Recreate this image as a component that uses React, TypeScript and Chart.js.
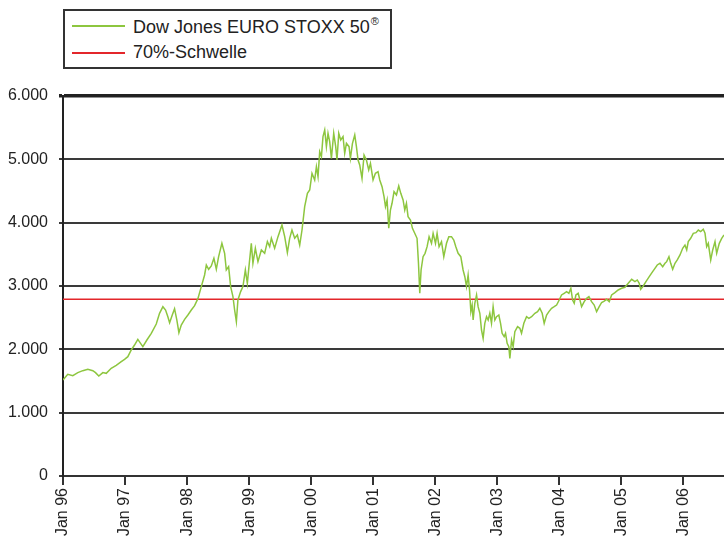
import React, { useEffect, useRef } from 'react';
import { Chart, registerables } from 'chart.js';

Chart.register(...registerables);

const seriesLabel = 'Dow Jones EURO STOXX 50';
const thresholdLabel = '70%-Schwelle';
const thresholdValue = 2790;

const yTickValues = [0, 1000, 2000, 3000, 4000, 5000, 6000];
const xTickYears = [1996, 1997, 1998, 1999, 2000, 2001, 2002, 2003, 2004, 2005, 2006];

// decimal years
const dates = [
  1996.000, 1996.077, 1996.158, 1996.239, 1996.319, 1996.400, 1996.481, 1996.524, 1996.577, 1996.642,
  1996.697, 1996.777, 1996.858, 1996.939, 1996.992, 1997.045, 1997.100, 1997.153, 1997.206, 1997.250,
  1997.287, 1997.352, 1997.423, 1997.503, 1997.556, 1997.610, 1997.653, 1997.690, 1997.718, 1997.761,
  1997.798, 1997.835, 1997.868, 1997.906, 1997.960, 1998.013, 1998.068, 1998.121, 1998.174, 1998.229,
  1998.282, 1998.310, 1998.347, 1998.390, 1998.432, 1998.471, 1998.508, 1998.561, 1998.605, 1998.632,
  1998.669, 1998.702, 1998.739, 1998.766, 1998.794, 1998.819, 1998.863, 1998.900, 1998.939, 1998.971,
  1998.997, 1999.035, 1999.061, 1999.100, 1999.142, 1999.197, 1999.250, 1999.294, 1999.331, 1999.358,
  1999.411, 1999.465, 1999.529, 1999.573, 1999.616, 1999.653, 1999.690, 1999.734, 1999.777, 1999.815,
  1999.852, 1999.895, 1999.939, 1999.976, 2000.013, 2000.056, 2000.084, 2000.110, 2000.137, 2000.165,
  2000.190, 2000.218, 2000.245, 2000.271, 2000.298, 2000.326, 2000.363, 2000.395, 2000.416, 2000.444,
  2000.476, 2000.513, 2000.540, 2000.568, 2000.610, 2000.632, 2000.665, 2000.702, 2000.729, 2000.755,
  2000.782, 2000.819, 2000.852, 2000.890, 2000.927, 2000.955, 2000.997, 2001.035, 2001.077, 2001.105,
  2001.142, 2001.174, 2001.197, 2001.223, 2001.250, 2001.277, 2001.303, 2001.335, 2001.374, 2001.411,
  2001.444, 2001.481, 2001.508, 2001.535, 2001.561, 2001.600, 2001.632, 2001.669, 2001.706, 2001.729,
  2001.750, 2001.771, 2001.803, 2001.835, 2001.868, 2001.900, 2001.939, 2001.965, 2002.003, 2002.029,
  2002.061, 2002.100, 2002.137, 2002.181, 2002.218, 2002.261, 2002.298, 2002.331, 2002.368, 2002.411,
  2002.448, 2002.476, 2002.503, 2002.529, 2002.552, 2002.573, 2002.594, 2002.610, 2002.637, 2002.665,
  2002.690, 2002.718, 2002.745, 2002.771, 2002.798, 2002.826, 2002.852, 2002.879, 2002.906, 2002.932,
  2002.960, 2002.987, 2003.024, 2003.052, 2003.077, 2003.110, 2003.132, 2003.158, 2003.185, 2003.202,
  2003.229, 2003.255, 2003.282, 2003.326, 2003.363, 2003.390, 2003.427, 2003.471, 2003.508, 2003.552,
  2003.605, 2003.648, 2003.685, 2003.723, 2003.755, 2003.794, 2003.831, 2003.874, 2003.916, 2003.955,
  2003.997, 2004.035, 2004.077, 2004.116, 2004.153, 2004.185, 2004.213, 2004.239, 2004.266, 2004.303,
  2004.331, 2004.358, 2004.400, 2004.439, 2004.476, 2004.519, 2004.561, 2004.600, 2004.642, 2004.681,
  2004.723, 2004.761, 2004.803, 2004.842, 2004.895, 2004.948, 2005.003, 2005.056, 2005.110, 2005.165,
  2005.218, 2005.255, 2005.287, 2005.310, 2005.352, 2005.395, 2005.448, 2005.503, 2005.540, 2005.577,
  2005.621, 2005.665, 2005.702, 2005.729, 2005.766, 2005.794, 2005.826, 2005.863, 2005.900, 2005.944,
  2005.987, 2006.024, 2006.052, 2006.077, 2006.116, 2006.158, 2006.202, 2006.239, 2006.277, 2006.319,
  2006.347, 2006.374, 2006.400, 2006.439, 2006.471, 2006.508, 2006.535, 2006.577, 2006.616, 2006.653,
];

const values = [
  1516, 1606, 1584, 1632, 1663, 1685, 1663, 1632, 1579, 1632,
  1621, 1700, 1748, 1805, 1842, 1884, 1990, 2068, 2158, 2095,
  2042, 2147, 2253, 2400, 2569, 2673, 2621, 2515, 2421, 2542,
  2642, 2463, 2263, 2384, 2474, 2542, 2621, 2690, 2800, 2990,
  3174, 3332, 3264, 3316, 3437, 3264, 3463, 3674, 3516, 3253,
  3305, 2990, 2832, 2621, 2437, 2779, 2911, 2990, 3253, 3043,
  3305, 3674, 3358, 3595, 3384, 3569, 3516, 3700, 3621, 3753,
  3595, 3779, 3963, 3779, 3526, 3753, 3884, 3753, 3805, 3647,
  3884, 4253, 4463, 4516, 4779, 4674, 4884, 4726, 5121, 5042,
  5358, 5463, 5200, 5411, 5280, 5016, 5411, 5200, 4990, 5411,
  5305, 5358, 5095, 5253, 5200, 5016, 5253, 5384, 5200, 4990,
  4911, 4700, 5069, 4990, 4832, 4937, 4674, 4779, 4805, 4674,
  4568, 4410, 4253, 4358, 3911, 4200, 4306, 4489, 4437, 4579,
  4463, 4358, 4200, 4306, 4095, 4042, 3911, 3832, 3753, 3358,
  2885, 3253, 3463, 3516, 3621, 3779, 3674, 3832, 3674, 3832,
  3621, 3700, 3463, 3674, 3779, 3779, 3726, 3621, 3516, 3463,
  3253, 3147, 2990, 3174, 2937, 2595, 2700, 2463, 2727, 2858,
  2673, 2569, 2305, 2174, 2411, 2515, 2463, 2569, 2411, 2673,
  2463, 2515, 2542, 2411, 2253, 2200, 2253, 2095, 2042, 1858,
  2147, 2042, 2279, 2358, 2332, 2253, 2411, 2515, 2490, 2515,
  2569, 2595, 2648, 2569, 2411, 2542, 2595, 2648, 2673, 2700,
  2779, 2858, 2885, 2911, 2885, 2964, 2779, 2727, 2858, 2885,
  2779, 2673, 2753, 2806, 2832, 2753, 2700, 2595, 2673, 2740,
  2760, 2790, 2753, 2858, 2895, 2937, 2964, 2980, 3043, 3106,
  3069, 3095, 3043, 2948, 3000, 3069, 3147, 3226, 3279, 3332,
  3358, 3305, 3358, 3384, 3463, 3358, 3264, 3358, 3411, 3490,
  3595, 3647, 3569, 3700, 3753, 3832, 3842, 3884, 3858, 3895,
  3832, 3621, 3674, 3411, 3569, 3700, 3516, 3674, 3753, 3805,
];

const FONT = '"Liberation Sans", Arial, Helvetica, sans-serif';
const GREEN = '#8dc63f';
const RED = '#e3262b';

function formatThousands(v: number): string {
  return String(v).replace(/\B(?=(\d{3})+(?!\d))/g, '.');
}

export default function App() {
  const canvasRef = useRef<HTMLCanvasElement | null>(null);

  useEffect(() => {
    const canvas = canvasRef.current;
    if (!canvas) return;
    const xMin = dates[0];
    const xMax = dates[dates.length - 1];
    const chart = new Chart(canvas, {
      type: 'line',
      data: {
        datasets: [
          {
            label: seriesLabel,
            data: dates.map((d, i) => ({ x: d, y: values[i] })),
            borderColor: GREEN,
            borderWidth: 1.5,
            pointRadius: 0,
            tension: 0,
            fill: false,
          },
          {
            label: thresholdLabel,
            data: [
              { x: xMin, y: thresholdValue },
              { x: xMax, y: thresholdValue },
            ],
            borderColor: RED,
            borderWidth: 1.6,
            pointRadius: 0,
            tension: 0,
            fill: false,
          },
        ],
      },
      options: {
        responsive: false,
        animation: false,
        devicePixelRatio: 1,
        layout: { padding: { top: 96, right: 0, left: 0, bottom: 0 } },
        plugins: {
          legend: { display: false },
          tooltip: { enabled: false },
        },
        scales: {
          x: {
            type: 'linear',
            min: xMin,
            max: xMax,
            afterBuildTicks: (axis: any) => {
              axis.ticks = xTickYears.map((v) => ({ value: v }));
            },
            afterFit: (s: any) => {
              s.height = 60;
            },
            ticks: {
              autoSkip: false,
              minRotation: 90,
              maxRotation: 90,
              padding: 3,
              color: '#222',
              font: { family: FONT, size: 16 },
              callback: (v: any) => 'Jan ' + String(Number(v) % 100).padStart(2, '0'),
            },
            grid: {
              drawOnChartArea: false,
              drawTicks: true,
              tickLength: 9,
              color: '#333',
              lineWidth: 2,
            },
            border: { display: true, color: '#333', width: 2 },
          },
          y: {
            type: 'linear',
            min: 0,
            max: 6000,
            afterBuildTicks: (axis: any) => {
              axis.ticks = yTickValues.map((v) => ({ value: v }));
            },
            afterFit: (s: any) => {
              s.width = 63;
            },
            ticks: {
              padding: 11,
              color: '#222',
              font: { family: FONT, size: 16 },
              callback: (v: any) => formatThousands(Number(v)),
            },
            grid: {
              drawTicks: true,
              tickLength: 4,
              color: (ctx: any) => (ctx.tick && ctx.tick.value === 6000 ? '#222' : '#3a3a3a'),
              lineWidth: (ctx: any) => (ctx.tick && ctx.tick.value === 6000 ? 3.5 : 2),
            },
            border: { display: true, color: '#222', width: 2 },
          },
        },
      },
    });
    return () => chart.destroy();
  }, []);

  return (
    <div style={{ position: 'fixed', left: 0, top: 0, width: 724, height: 536, background: '#fff' }}>
      <canvas ref={canvasRef} width={724} height={536} style={{ position: 'absolute', left: 0, top: 0 }} />
      <div
        style={{
          position: 'absolute',
          left: 63,
          top: 9,
          width: 329,
          height: 60,
          boxSizing: 'border-box',
          border: '2px solid #333',
          background: '#fff',
          fontFamily: FONT,
          fontSize: 18,
          color: '#222',
        }}
      >
        <div style={{ position: 'absolute', left: 7, top: 14, width: 53, height: 1.5, background: GREEN }} />
        <div style={{ position: 'absolute', left: 68, top: 7, lineHeight: '18px', whiteSpace: 'nowrap' }}>
          {seriesLabel}
          <span style={{ fontSize: 11, position: 'relative', top: -8, marginLeft: 1 }}>®</span>
        </div>
        <div style={{ position: 'absolute', left: 7, top: 41, width: 53, height: 1.5, background: RED }} />
        <div style={{ position: 'absolute', left: 68, top: 32, lineHeight: '18px', whiteSpace: 'nowrap' }}>
          {thresholdLabel}
        </div>
      </div>
    </div>
  );
}
